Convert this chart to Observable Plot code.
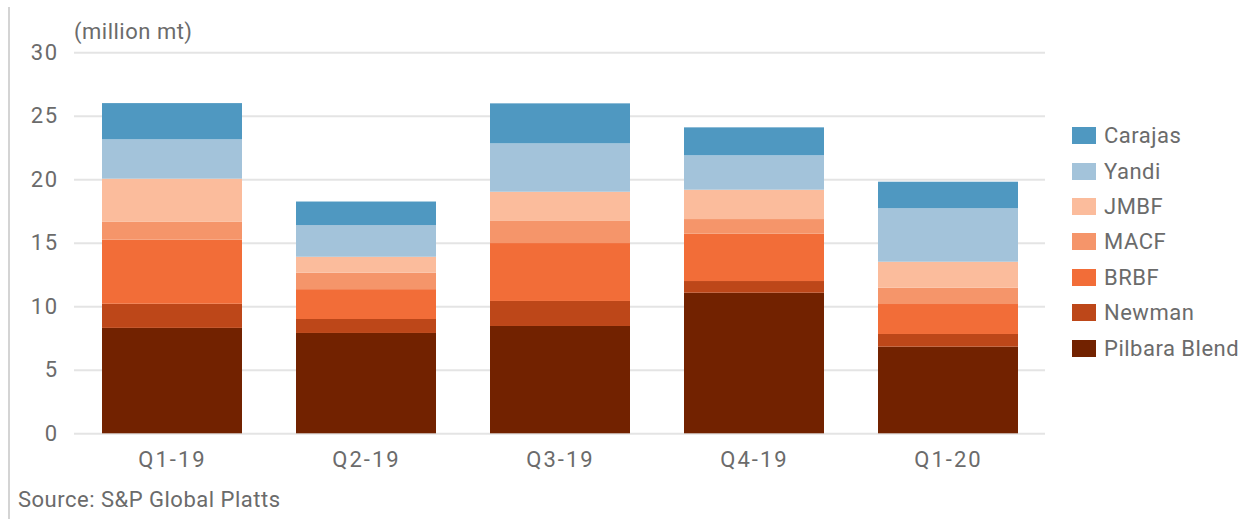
<!DOCTYPE html>
<html>
<head>
<meta charset="utf-8">
<script src="https://cdn.jsdelivr.net/npm/d3@7"></script>
<script src="https://cdn.jsdelivr.net/npm/@observablehq/plot@0.6"></script>
<style>
  html, body { margin: 0; padding: 0; background: #fff; }
  #wrap { position: relative; width: 1249px; height: 519px; overflow: hidden;
          font-family: Roboto, "Noto Sans", sans-serif; color: #6b6b6b; letter-spacing: 0.5px; }
  #wrap svg { position: absolute; left: 0; top: 0; }
  #wrap svg g[aria-label="x-axis tick label"] text { letter-spacing: 2px; }
  #wrap svg g[aria-label="y-axis tick label"] text { letter-spacing: 1.5px; }
  .rule { position: absolute; left: 8px; top: 7px; width: 2px; bottom: 0; background: #d4d4d4; }
  .unit { position: absolute; left: 74px; top: 18px; font-size: 22px; line-height: 28px; }
  .source { position: absolute; left: 18px; top: 486px; font-size: 22px; line-height: 28px; }
  .legend { position: absolute; left: 1072px; top: 118px; }
  .item { display: flex; align-items: center; height: 35.4px; font-size: 22px; }
  .sw { width: 24px; height: 17px; margin-right: 8px; flex: none; }
</style>
</head>
<body>
<div id="wrap">
  <div class="rule"></div>
  <div class="unit">(million mt)</div>
  <div class="source">Source: S&amp;P Global Platts</div>
  <div class="legend" id="legend"></div>
</div>
<script>
// Quarters on the x axis
const quarters = ["Q1-19", "Q2-19", "Q3-19", "Q4-19", "Q1-20"];

// Ore brands, stacked from the bottom up
const brands = ["Pilbara Blend", "Newman", "BRBF", "MACF", "JMBF", "Yandi", "Carajas"];
const brandColors = ["#722200", "#bd4719", "#f26d38", "#f5956a", "#fbbc9c", "#a3c3da", "#4f98c1"];

// Volumes per brand (million mt), one value per quarter
const pilbaraBlend = [8.3, 7.9, 8.45, 11.07, 6.82];
const newman       = [1.9, 1.1, 1.97, 0.92, 1.0];
const brbf         = [5.05, 2.35, 4.56, 3.73, 2.36];
const macf         = [1.4, 1.3, 1.74, 1.15, 1.28];
const jmbf         = [3.4, 1.25, 2.3, 2.31, 2.05];
const yandi        = [3.1, 2.5, 3.81, 2.71, 4.21];
const carajas      = [2.85, 1.85, 3.15, 2.2, 2.09];

const yTicks = [0, 5, 10, 15, 20, 25, 30];

const series = [pilbaraBlend, newman, brbf, macf, jmbf, yandi, carajas];
const rows = [];
brands.forEach((b, i) => {
  quarters.forEach((q, j) => rows.push({quarter: q, brand: b, value: series[i][j]}));
});

const chart = Plot.plot({
  width: 1249,
  height: 519,
  marginLeft: 74,
  marginRight: 204,
  marginTop: 52.3,
  marginBottom: 85.7,
  style: {fontFamily: "Roboto, 'Noto Sans', sans-serif", fontSize: "22px", color: "#6b6b6b", background: "transparent"},
  x: {domain: quarters, paddingInner: 0.28, paddingOuter: 0.137, label: null},
  y: {domain: [0, 30], label: null},
  color: {domain: brands, range: brandColors},
  marks: [
    Plot.gridY(yTicks, {stroke: "#e4e4e4", strokeOpacity: 1, strokeWidth: 2}),
    Plot.barY(rows, {x: "quarter", y: "value", fill: "brand", order: brands}),
    Plot.axisY(yTicks, {tickSize: 0, tickPadding: 16, fontSize: 22, label: null}),
    Plot.axisX({tickSize: 0, tickPadding: 18, fontSize: 22, label: null})
  ]
});
document.getElementById("wrap").prepend(chart);

// Legend, listed from the top of the stack down
const legend = document.getElementById("legend");
brands.slice().reverse().forEach(b => {
  const item = document.createElement("div");
  item.className = "item";
  const sw = document.createElement("span");
  sw.className = "sw";
  sw.style.background = brandColors[brands.indexOf(b)];
  item.appendChild(sw);
  item.appendChild(document.createTextNode(b));
  legend.appendChild(item);
});
</script>
</body>
</html>
